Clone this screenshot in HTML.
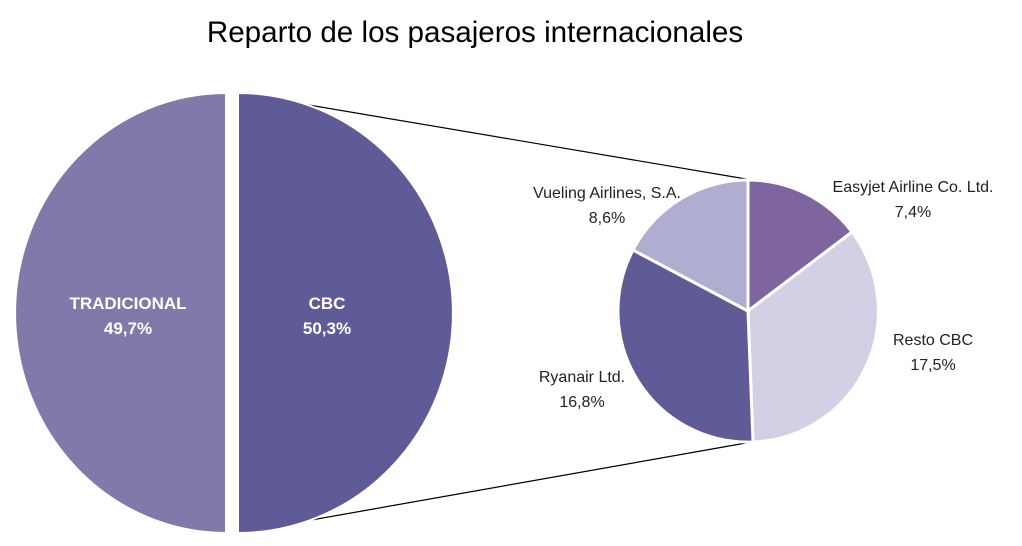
<!DOCTYPE html>
<html><head><meta charset="utf-8"><style>
html,body{margin:0;padding:0;background:#fff;}
svg{display:block;font-family:"Liberation Sans",sans-serif;}
</style></head><body>
<svg width="1022" height="546" viewBox="0 0 1022 546">
<rect width="1022" height="546" fill="#fff"/>
<text x="475" y="42" font-size="29.6" text-anchor="middle" fill="#000">Reparto de los pasajeros internacionales</text>
<line x1="238" y1="93" x2="752" y2="180" stroke="#000" stroke-width="1.2"/>
<line x1="238" y1="533" x2="746" y2="443" stroke="#000" stroke-width="1.2"/>
<path d="M226,93 A211,220 0 0 0 226,533 Z" fill="#7f7aaa" stroke="#fff" stroke-width="2"/>
<path d="M238,93 A215,220 0 0 1 238,533 Z" fill="#5f5b97" stroke="#fff" stroke-width="2"/>
<g stroke="#fff" stroke-width="3">
<path d="M748,311 L748,180 A130,131 0 0 1 852,232 Z" fill="#7f659f"/>
<path d="M748,311 L852,232 A130,131 0 0 1 753,442 Z" fill="#d3d0e6"/>
<path d="M748,311 L753,442 A130,131 0 0 1 633,250 Z" fill="#5f5b97"/>
<path d="M748,311 L633,250 A130,131 0 0 1 748,180 Z" fill="#b0aed0"/>
</g>
<g font-size="17" font-weight="bold" fill="#fff" text-anchor="middle">
<text x="128" y="309">TRADICIONAL</text><text x="128" y="334">49,7%</text>
<text x="327" y="309">CBC</text><text x="327" y="334">50,3%</text>
</g>
<g font-size="16" fill="#222" text-anchor="middle">
<text x="607" y="198">Vueling Airlines, S.A.</text><text x="607" y="223">8,6%</text>
<text x="913" y="192">Easyjet  Airline Co. Ltd.</text><text x="913" y="217">7,4%</text>
<text x="933" y="345">Resto CBC</text><text x="933" y="370">17,5%</text>
<text x="582" y="382">Ryanair Ltd.</text><text x="582" y="407">16,8%</text>
</g>
</svg>
</body></html>
